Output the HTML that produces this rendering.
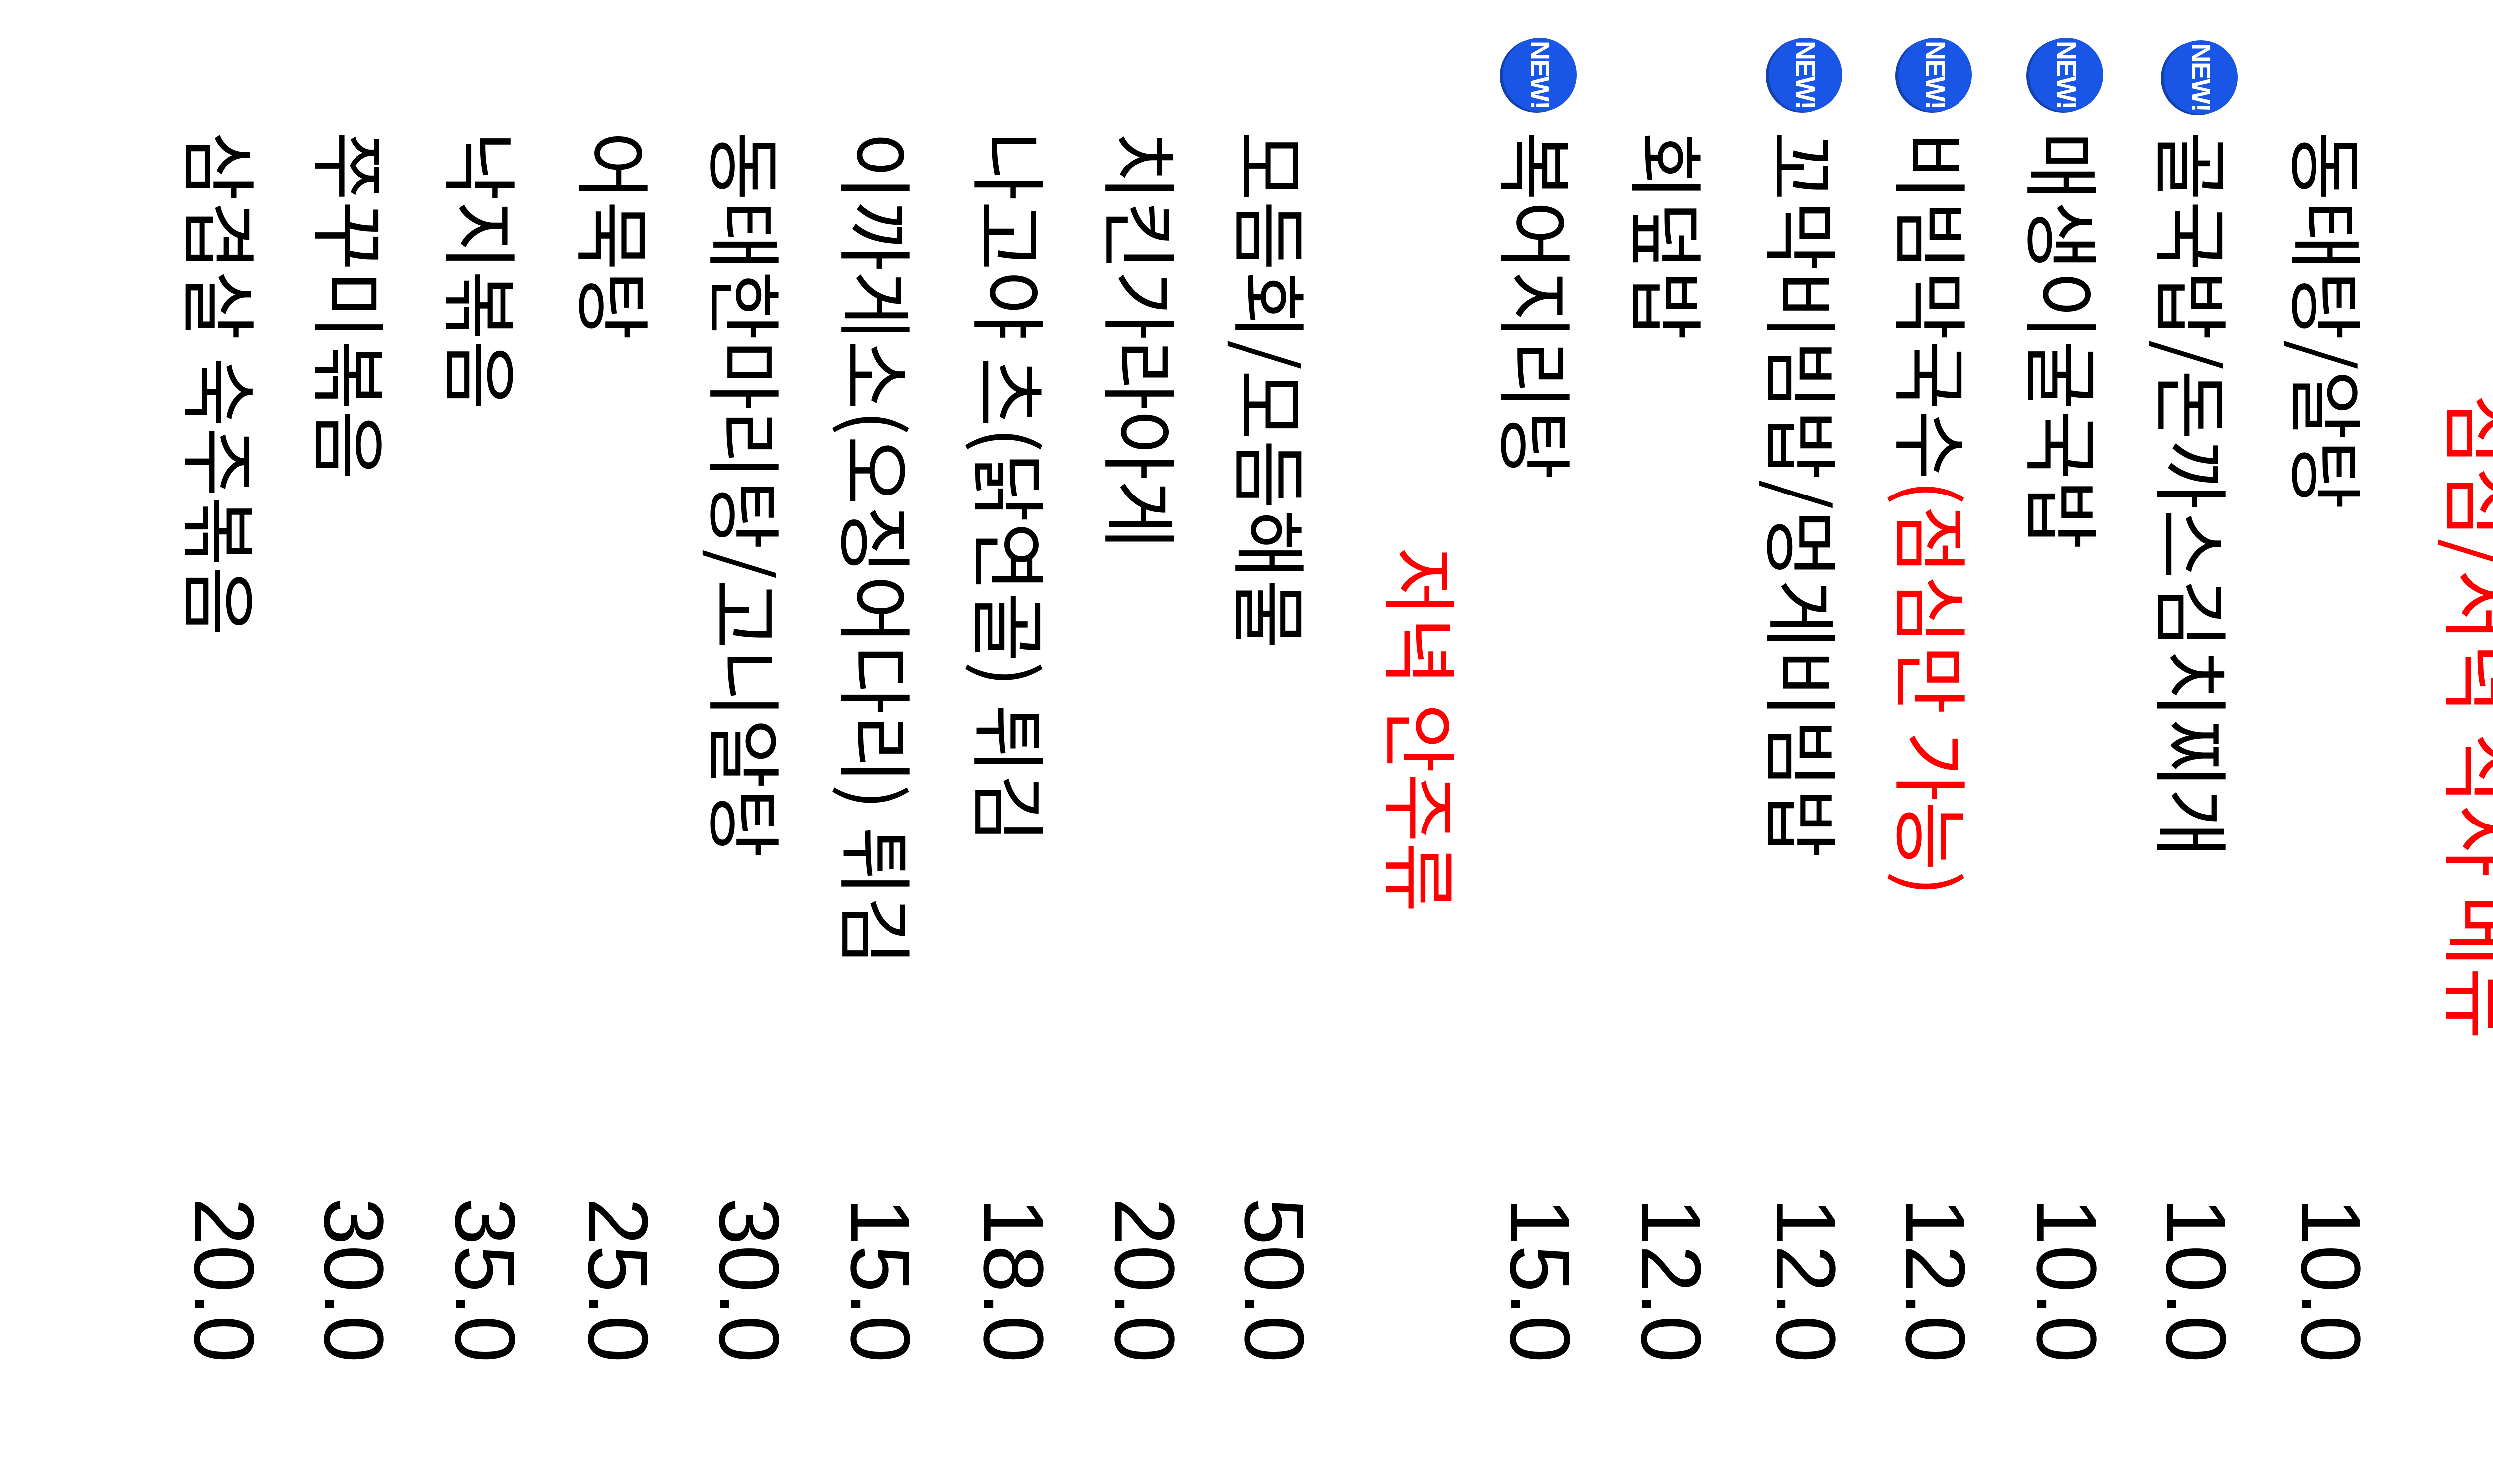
<!DOCTYPE html>
<html><head><meta charset="utf-8">
<style>
html,body{margin:0;padding:0;background:#fff;}
body{width:5292px;height:2977px;position:relative;overflow:hidden;font-family:"Liberation Sans","Noto Sans CJK KR",sans-serif;}
.v{position:absolute;writing-mode:vertical-rl;text-orientation:sideways;white-space:nowrap;font-family:"Noto Sans CJK KR","Liberation Sans",sans-serif;font-size:152px;line-height:200px;width:200px;color:#000;}
.r{color:#f00;}
.p{font-family:"Liberation Sans",sans-serif;font-size:170px;}
.b{position:absolute;width:148px;height:148px;border-radius:50%;background:#1a56e6;box-shadow:-6px 2px 0 #1440b0;}
.b span{position:absolute;left:50%;top:50%;transform:translate(-50%,-50%) rotate(90deg);color:#fff;font:bold 54px "Liberation Sans",sans-serif;letter-spacing:-2px;}
</style></head><body>
<div class="v r" style="left:4886px;top:790px;font-size:158px;">점심/저녁 식사 메뉴</div>

<div class="v" style="left:4574px;top:263px;">동태탕/알탕</div>
<div class="v" style="left:4304px;top:263px;">골국밥/돈까스김치찌개</div>
<div class="v" style="left:4044px;top:263px;">매생이굴국밥</div>
<div class="v" style="left:3781px;top:263px;">비빔막국수<span class="r">(점심만 가능)</span></div>
<div class="v" style="left:3521px;top:263px;">꼬막비빔밥/멍게비빔밥</div>
<div class="v" style="left:3251px;top:263px;">회덮밥</div>
<div class="v" style="left:2988px;top:263px;">복어지리탕</div>

<div class="v r" style="left:2757px;top:1097px;">저녁 안주류</div>

<div class="v" style="left:2455px;top:263px;">모듬회/모듬해물</div>
<div class="v" style="left:2195px;top:263px;">치킨가라아게</div>
<div class="v" style="left:1932px;top:263px;">나고야 츠(닭연골) 튀김</div>
<div class="v" style="left:1665px;top:263px;">이까게소(오징어다리) 튀김</div>
<div class="v" style="left:1402px;top:263px;">동태한마리탕/고니알탕</div>
<div class="v" style="left:1139px;top:263px;">어묵탕</div>
<div class="v" style="left:872px;top:263px;">낙지볶음</div>
<div class="v" style="left:609px;top:263px;">쭈꾸미볶음</div>
<div class="v" style="left:349px;top:263px;">삼겹살 숙주볶음</div>

<div class="v p" style="left:4574px;top:2403px;">10.0</div>
<div class="v p" style="left:4304px;top:2403px;">10.0</div>
<div class="v p" style="left:4044px;top:2403px;">10.0</div>
<div class="v p" style="left:3781px;top:2403px;">12.0</div>
<div class="v p" style="left:3521px;top:2403px;">12.0</div>
<div class="v p" style="left:3251px;top:2403px;">12.0</div>
<div class="v p" style="left:2988px;top:2403px;">15.0</div>
<div class="v p" style="left:2455px;top:2403px;">50.0</div>
<div class="v p" style="left:2195px;top:2403px;">20.0</div>
<div class="v p" style="left:1932px;top:2403px;">18.0</div>
<div class="v p" style="left:1665px;top:2403px;">15.0</div>
<div class="v p" style="left:1402px;top:2403px;">30.0</div>
<div class="v p" style="left:1139px;top:2403px;">25.0</div>
<div class="v p" style="left:872px;top:2403px;">35.0</div>
<div class="v p" style="left:609px;top:2403px;">30.0</div>
<div class="v p" style="left:349px;top:2403px;">20.0</div>

<div class="b" style="left:4340px;top:81px;"><span>NEW!</span></div>
<div class="b" style="left:4070px;top:76px;"><span>NEW!</span></div>
<div class="b" style="left:3807px;top:76px;"><span>NEW!</span></div>
<div class="b" style="left:3547px;top:76px;"><span>NEW!</span></div>
<div class="b" style="left:3014px;top:76px;"><span>NEW!</span></div>
</body></html>
